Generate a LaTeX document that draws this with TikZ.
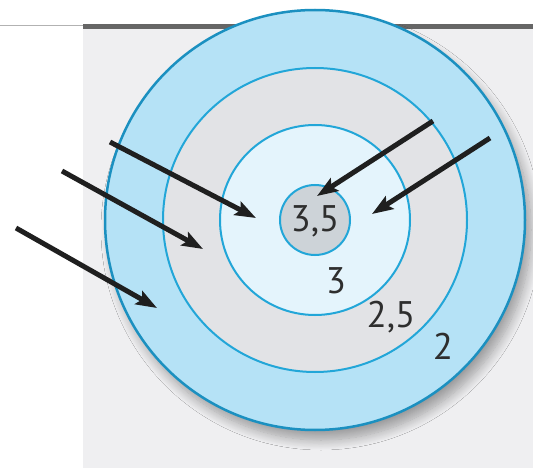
\documentclass[tikz,border=0pt]{standalone}
\usepackage{fontspec}
\setsansfont{PT Sans}
\usetikzlibrary{arrows.meta,shadows.blur}

\definecolor{panelgray}{HTML}{EFEFF1}
\definecolor{ringblue}{HTML}{B5E2F6}
\definecolor{ringgray}{HTML}{E2E3E6}
\definecolor{coreblue}{HTML}{E4F4FC}
\definecolor{coregray}{HTML}{CDD3D8}
\definecolor{lineblue}{HTML}{22A6D8}
\definecolor{edgeblue}{HTML}{1B90C0}
\definecolor{textgray}{HTML}{2E2E2E}

\tikzset{
  ring/.style={draw=lineblue, line width=2pt},
  ray/.style={-{Stealth[length=21pt,width=15pt,inset=4pt]}, line width=5pt, black!88},
  level/.style={font=\fontsize{37}{40}\selectfont\sffamily, text=textgray, inner sep=0pt}
}

\begin{document}
\begin{tikzpicture}[x=1pt,y=-1pt]
  \useasboundingbox (0,0) rectangle (533,473);
  % panel and rule on top
  \fill[panelgray] (83,29) rectangle (533,468);
  \draw[gray!60, line width=1pt] (0,26) -- (83,26);
  \draw[black!60, line width=5pt] (83,26.5) -- (533,26.5);

  % the rings
  \fill[ringblue, blur shadow={shadow xshift=6pt, shadow yshift=-10pt, shadow blur steps=12, shadow blur radius=10pt, shadow opacity=35}]
    (315,220) circle (210);
  \draw[edgeblue, line width=2.5pt] (315,220) circle (210);
  \filldraw[ring, fill=ringgray] (315,220) circle (152);
  \filldraw[ring, fill=coreblue] (315,220) circle (95);
  \filldraw[ring, fill=coregray] (315,220) circle (35);

  % labels
  \node[level] (v35) at (315,221) {3,5};
  \node[level] (v3) at (336,281) {3};
  \node[level] (v25) at (391,317) {2,5};
  \node[level] (v2) at (443,346) {2};

  % rays
  \coordinate (a1) at (110,142);
  \coordinate (b1) at (256,218);
  \coordinate (a2) at (62,171);
  \coordinate (b2) at (203,249);
  \coordinate (a3) at (16,228);
  \coordinate (b3) at (157,308);
  \coordinate (a4) at (433,121);
  \coordinate (b4) at (317,196);
  \coordinate (a5) at (490,138);
  \coordinate (b5) at (372,214);
  \draw[ray] (a1) -- (b1);
  \draw[ray] (a2) -- (b2);
  \draw[ray] (a3) -- (b3);
  \draw[ray] (a4) -- (b4);
  \draw[ray] (a5) -- (b5);
\end{tikzpicture}
\end{document}
